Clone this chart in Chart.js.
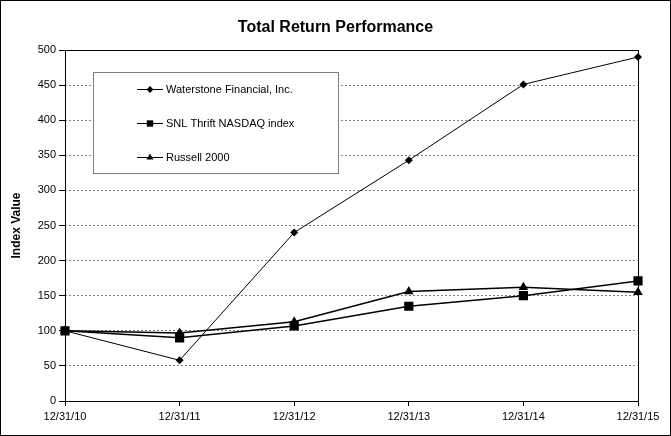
<!DOCTYPE html>
<html><head><meta charset="utf-8">
<script src="https://cdn.jsdelivr.net/npm/chart.js@4/dist/chart.umd.min.js"></script>
<style>html,body{margin:0;padding:0;background:#fff;}canvas{display:block;}</style>
</head><body>
<canvas id="c" width="671" height="436"></canvas>
<script>
const categories = ['12/31/10', '12/31/11', '12/31/12', '12/31/13', '12/31/14', '12/31/15'];
const waterstone = [100, 58, 240, 343, 451, 490];
const snlThrift = [100, 90, 107, 135, 150, 171];
const russell2000 = [100, 97, 113, 156, 162, 155];
const seriesNames = ['Waterstone Financial, Inc.', 'SNL Thrift NASDAQ index', 'Russell 2000'];
const yTickValues = [0, 50, 100, 150, 200, 250, 300, 350, 400, 450, 500];

const FONT = 'Arial, "Liberation Sans", sans-serif';

function marker(ctx, style, x, y, r) {
  ctx.beginPath();
  if (style === 'rectRot') {
    ctx.moveTo(x, y - r); ctx.lineTo(x + r, y); ctx.lineTo(x, y + r); ctx.lineTo(x - r, y);
  } else if (style === 'rect') {
    const s = r * Math.SQRT1_2;
    ctx.rect(x - s, y - s, 2 * s, 2 * s);
  } else {
    const w = r * Math.sqrt(3) / 2;
    ctx.moveTo(x, y - r); ctx.lineTo(x + w, y + r / 2); ctx.lineTo(x - w, y + r / 2);
  }
  ctx.closePath();
  ctx.fill();
}

const framePlugin = {
  id: 'frame',
  beforeDraw(chart) {
    const ctx = chart.ctx;
    ctx.save();
    ctx.fillStyle = '#fff';
    ctx.fillRect(0, 0, chart.width, chart.height);
    ctx.restore();
  },
  beforeDatasetsDraw(chart) {
    const ctx = chart.ctx, a = chart.chartArea;
    ctx.save();
    ctx.strokeStyle = '#000';
    ctx.lineWidth = 1;
    const l = Math.round(a.left) + 0.5, t = Math.round(a.top) + 0.5;
    const r = Math.round(a.right) + 0.5, b = Math.round(a.bottom) + 0.5;
    ctx.strokeRect(l, t, r - l, b - t);
    // legend box
    const bx = Math.round(a.left) + 28, by = Math.round(a.top) + 22, bw = 245, bh = 101;
    ctx.fillStyle = '#fff';
    ctx.fillRect(bx, by, bw, bh);
    ctx.strokeStyle = '#808080';
    ctx.strokeRect(bx + 0.5, by + 0.5, bw, bh);
    ctx.font = '11px ' + FONT;
    ctx.textBaseline = 'middle';
    ctx.textAlign = 'left';
    chart.data.datasets.forEach((ds, i) => {
      const y = by + 17.5 + i * 34;
      ctx.strokeStyle = '#000';
      ctx.lineWidth = 1;
      ctx.beginPath();
      ctx.moveTo(bx + 44, y); ctx.lineTo(bx + 70, y); ctx.stroke();
      ctx.fillStyle = '#000';
      marker(ctx, ds.pointStyle, bx + 57, y, ds.legendRadius);
      ctx.fillText(ds.label, bx + 73, y);
    });
    ctx.restore();
  },
  afterDraw(chart) {
    const ctx = chart.ctx;
    ctx.save();
    ctx.strokeStyle = '#000';
    ctx.lineWidth = 1;
    ctx.strokeRect(0.5, 0.5, chart.width - 1, chart.height - 1);
    ctx.restore();
  }
};

new Chart(document.getElementById('c'), {
  type: 'line',
  data: {
    labels: categories,
    datasets: [
      { label: seriesNames[0], data: waterstone, pointStyle: 'rectRot', pointRadius: 4, legendRadius: 3.5,
        borderColor: '#000', backgroundColor: '#000', borderWidth: 1, pointBorderWidth: 0, pointBackgroundColor: '#000', tension: 0 },
      { label: seriesNames[1], data: snlThrift, pointStyle: 'rect', pointRadius: 6.5, legendRadius: 4.5,
        borderColor: '#000', backgroundColor: '#000', borderWidth: 1.5, pointBorderWidth: 0, pointBackgroundColor: '#000', tension: 0 },
      { label: seriesNames[2], data: russell2000, pointStyle: 'triangle', pointRadius: 5.5, legendRadius: 4,
        borderColor: '#000', backgroundColor: '#000', borderWidth: 1.5, pointBorderWidth: 0, pointBackgroundColor: '#000', tension: 0 }
    ]
  },
  options: {
    responsive: false,
    animation: false,
    layout: { padding: 0 },
    plugins: {
      legend: { display: false },
      tooltip: { enabled: false },
      title: {
        display: true,
        text: 'Total Return Performance',
        color: '#000',
        font: { family: FONT, size: 16, weight: 'bold' },
        padding: { top: 18, bottom: 12.8 }
      }
    },
    scales: {
      x: {
        type: 'category',
        offset: false,
        grid: { drawOnChartArea: false, drawTicks: true, tickLength: 5, tickColor: '#000', color: '#000' },
        border: { display: false },
        ticks: { color: '#000', font: { family: FONT, size: 11 }, padding: 4, maxRotation: 0, autoSkip: false },
        afterFit(scale) { scale.height = 35; }
      },
      y: {
        min: 0, max: 500,
        afterBuildTicks(scale) { scale.ticks = yTickValues.map(v => ({ value: v })); },
        grid: { color: '#808080', lineWidth: 1, tickLength: 6, tickColor: '#000', tickBorderDash: [] },
        border: { display: false, dash: [2, 2] },
        ticks: { color: '#000', font: { family: FONT, size: 11 }, padding: 3 },
        title: { display: true, text: 'Index Value', color: '#000', font: { family: FONT, size: 12, weight: 'bold' }, padding: { top: 9, bottom: 0 } },
        afterFit(scale) { scale.width = 65; }
      },
      yRight: {
        position: 'right',
        display: true,
        min: 0, max: 500,
        grid: { display: false, drawTicks: false },
        border: { display: false },
        ticks: { display: false },
        afterFit(scale) { scale.width = 33; }
      }
    }
  },
  plugins: [framePlugin]
});
</script>
</body></html>
